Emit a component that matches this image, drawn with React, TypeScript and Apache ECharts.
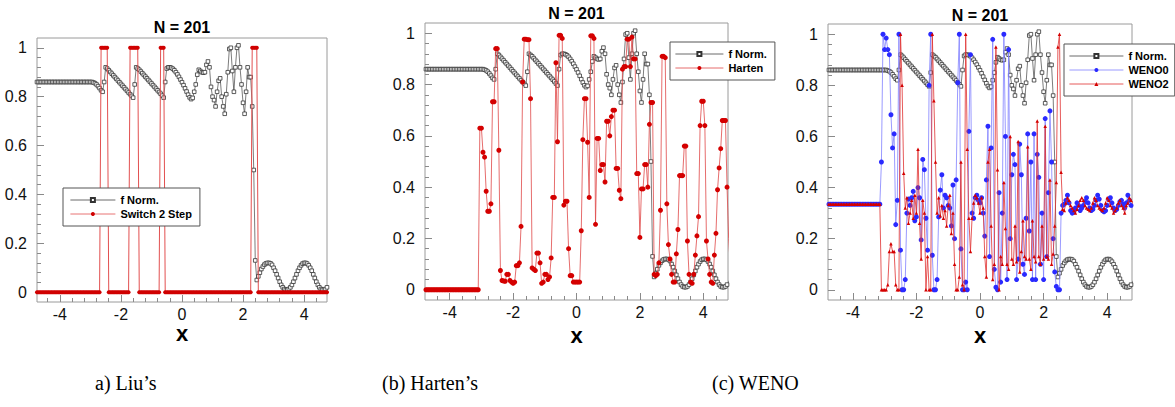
import React, { useEffect, useRef } from "react";
import * as echarts from "echarts";

// Sampling grid: N = 201 points on [-5, 5]
const N = 201;
const xs: number[] = Array.from({ length: N }, (_, i) => Math.round((-5 + i * 0.05) * 100) / 100);

// f Norm. (normalised solution)
const fNorm: number[] = [
  0.86, 0.86, 0.86, 0.86, 0.86, 0.86, 0.86, 0.86, 0.86, 0.86,
  0.86, 0.86, 0.86, 0.86, 0.86, 0.86, 0.86, 0.86, 0.86, 0.86,
  0.86, 0.86, 0.86, 0.86, 0.86, 0.86, 0.86, 0.86, 0.86, 0.86,
  0.86, 0.86, 0.86, 0.86, 0.86, 0.86, 0.86, 0.86, 0.86, 0.86,
  0.86, 0.86, 0.858, 0.855, 0.85, 0.843, 0.835, 0.826, 0.82, 0.86,
  0.92, 0.915, 0.908, 0.901, 0.894, 0.887, 0.88, 0.873, 0.866, 0.859,
  0.852, 0.845, 0.838, 0.831, 0.824, 0.817, 0.81, 0.803, 0.796, 0.85,
  0.92, 0.915, 0.91, 0.903, 0.896, 0.889, 0.882, 0.875, 0.868, 0.861,
  0.854, 0.847, 0.84, 0.833, 0.826, 0.819, 0.812, 0.804, 0.796, 0.86,
  0.915, 0.92, 0.92, 0.918, 0.914, 0.908, 0.9, 0.891, 0.881, 0.87,
  0.859, 0.847, 0.834, 0.821, 0.808, 0.797, 0.79, 0.795, 0.82, 0.85,
  0.89, 0.91, 0.905, 0.9, 0.898, 0.9, 0.93, 0.944, 0.92, 0.84,
  0.8, 0.786, 0.76, 0.82, 0.865, 0.875, 0.8, 0.76, 0.73, 0.81,
  0.9, 0.995, 1.0, 0.905, 0.82, 0.92, 1.0, 1.01, 0.92, 0.85,
  0.775, 0.73, 0.82, 0.92, 0.88, 0.88, 0.76, 0.5, 0.13, 0.05,
  0.065, 0.08, 0.095, 0.105, 0.113, 0.118, 0.12, 0.12, 0.118, 0.112,
  0.1, 0.088, 0.073, 0.058, 0.043, 0.03, 0.02, 0.013, 0.01, 0.01,
  0.013, 0.02, 0.03, 0.043, 0.058, 0.073, 0.088, 0.1, 0.11, 0.117,
  0.12, 0.12, 0.117, 0.11, 0.1, 0.088, 0.073, 0.058, 0.043, 0.03,
  0.02, 0.013, 0.01, 0.01, 0.013, 0.02, 0.03, 0.043, 0.058, 0.073,
  0.088,
];

// Liu's switch (0 / 1)
const switch2Step: number[] = [
  0, 0, 0, 0, 0, 0, 0, 0, 0, 0,
  0, 0, 0, 0, 0, 0, 0, 0, 0, 0,
  0, 0, 0, 0, 0, 0, 0, 0, 0, 0,
  0, 0, 0, 0, 0, 0, 0, 0, 0, 0,
  0, 0, 0, 0, 0, 0, 0, 1, 1, 1,
  1, 1, 0, 0, 0, 0, 0, 0, 0, 0,
  0, 0, 0, 0, 0, 0, 1, 1, 1, 1,
  1, 1, 0, 0, 0, 0, 0, 0, 0, 0,
  0, 0, 0, 0, 0, 0, 1, 1, 1, 0,
  0, 0, 0, 0, 0, 0, 0, 0, 0, 0,
  0, 0, 0, 0, 0, 0, 0, 0, 0, 0,
  0, 0, 0, 0, 0, 0, 0, 0, 0, 0,
  0, 0, 0, 0, 0, 0, 0, 0, 0, 0,
  0, 0, 0, 0, 0, 0, 0, 0, 0, 0,
  0, 0, 0, 0, 0, 0, 1, 1, 1, 1,
  0, 0, 0, 0, 0, 0, 0, 0, 0, 0,
  0, 0, 0, 0, 0, 0, 0, 0, 0, 0,
  0, 0, 0, 0, 0, 0, 0, 0, 0, 0,
  0, 0, 0, 0, 0, 0, 0, 0, 0, 0,
  0, 0, 0, 0, 0, 0, 0, 0, 0, 0,
  0,
];

// Harten's switch
const harten: number[] = [
  0, 0, 0, 0, 0, 0, 0, 0, 0, 0,
  0, 0, 0, 0, 0, 0, 0, 0, 0, 0,
  0, 0, 0, 0, 0, 0, 0, 0, 0, 0,
  0, 0, 0, 0, 0, 0, 0, 0, 0, 0.63,
  0.63, 0.536, 0.517, 0.384, 0.306, 0.306, 0.335, 0.733, 0.733, 0.94,
  0.94, 0.544, 0.075, 0.036, 0.034, 0.033, 0.06, 0.06, 0.036, 0.03,
  0.025, 0.03, 0.094, 0.094, 0.105, 0.247, 0.81, 0.977, 0.977, 0.975,
  0.975, 0.745, 0.085, 0.08, 0.075, 0.143, 0.143, 0.105, 0.025, 0.03,
  0.06, 0.06, 0.04, 0.05, 0.124, 0.36, 0.36, 0.885, 0.577, 0.992,
  0.992, 0.98, 0.33, 0.345, 0.345, 0.16, 0.055, 0.055, 0.03, 0.03,
  0.03, 0.03, 0.03, 0.23, 0.585, 0.745, 0.745, 0.575, 0.36, 0.99,
  0.99, 0.98, 0.255, 0.59, 0.59, 0.465, 0.488, 0.488, 0.42, 0.657,
  0.657, 0.6, 0.675, 0.7, 0.7, 0.473, 0.473, 0.388, 0.355, 0.86,
  0.87, 0.87, 0.977, 0.977, 0.87, 0.985, 0.9, 0.9, 0.453, 0.453,
  0.204, 0.393, 0.393, 0.488, 0.488, 0.4, 0.645, 0.73, 0.73, 0.06,
  0.055, 0.06, 0.105, 0.31, 0.91, 0.91, 0.905, 0.335, 0.176, 0.12,
  0.06, 0.03, 0.03, 0.14, 0.235, 0.445, 0.445, 0.445, 0.56, 0.56,
  0.19, 0.06, 0.03, 0.025, 0.06, 0.135, 0.21, 0.285, 0.64, 0.735,
  0.735, 0.64, 0.19, 0.12, 0.06, 0.03, 0.025, 0.135, 0.22, 0.39,
  0.475, 0.55, 0.66, 0.66, 0.66, 0.4, 0.2, 0.1, 0.05, 0.03,
  0.03,
];

// WENO0 smoothness switch
const weno0: number[] = [
  0.335, 0.335, 0.335, 0.335, 0.335, 0.335, 0.335, 0.335, 0.335, 0.335,
  0.335, 0.335, 0.335, 0.335, 0.335, 0.335, 0.335, 0.335, 0.335, 0.335,
  0.335, 0.335, 0.335, 0.335, 0.335, 0.335, 0.335, 0.335, 0.335, 0.335,
  0.335, 0.335, 0.335, 0.335, 0.335, 0.335, 0.335, 0.335, 0.5, 1.0,
  0.94, 0.985, 0.94, 0.92, 0.685, 0.555, 0.61, 0.255, 0.35, 1.0,
  0.155, 0.0, 0.0, 0.04, 0.3, 0.355, 0.33, 0.36, 0.385, 0.27,
  0.285, 0.4, 0.36, 0.195, 0.51, 0.47, 0.28, 0.155, 0.8, 1.0,
  0.135, 0.0, 0.0, 0.04, 0.285, 0.39, 0.45, 0.32, 0.37, 0.36,
  0.33, 0.32, 0.25, 0.41, 0.2, 0.43, 0.81, 1.0, 0.16, 0.0,
  0.0, 0.03, 0.0, 0.62, 0.92, 0.3, 0.28, 0.36, 0.37, 0.35,
  0.34, 0.36, 0.3, 0.21, 0.43, 0.64, 0.13, 0.555, 0.98, 0.08,
  0.01, 0.0, 0.38, 0.03, 0.3, 1.0, 0.6, 0.04, 0.94, 0.2,
  0.45, 0.53, 0.49, 0.04, 0.12, 0.57, 0.45, 0.1, 0.06, 0.28,
  0.61, 0.23, 0.5, 0.04, 0.61, 0.04, 0.53, 0.44, 0.1, 0.3,
  0.04, 0.67, 0.13, 0.38, 0.7, 0.5, 0.2, 0.07, 0.013, 0.0,
  0.0, 0.3, 0.33, 0.335, 0.35, 0.37, 0.34, 0.31, 0.3, 0.305,
  0.32, 0.34, 0.33, 0.31, 0.32, 0.33, 0.345, 0.36, 0.34, 0.32,
  0.31, 0.315, 0.33, 0.35, 0.37, 0.355, 0.33, 0.31, 0.305, 0.31,
  0.33, 0.355, 0.36, 0.34, 0.32, 0.31, 0.315, 0.33, 0.345, 0.35,
  0.335, 0.32, 0.34, 0.37, 0.35, 0.33, 0.32, 0.33, 0.34, 0.35,
  0.34,
];

// WENO2 smoothness switch
const weno2: number[] = [
  0.335, 0.335, 0.335, 0.335, 0.335, 0.335, 0.335, 0.335, 0.335, 0.335,
  0.335, 0.335, 0.335, 0.335, 0.335, 0.335, 0.335, 0.335, 0.335, 0.335,
  0.335, 0.335, 0.335, 0.335, 0.335, 0.335, 0.335, 0.335, 0.335, 0.335,
  0.335, 0.335, 0.335, 0.335, 0.335, 0.335, 0.335, 0.335, 0.0, 0.0,
  0.0, 0.0, 0.02, 0.15, 0.18, 0.15, 0.15, 0.02, 0.0, 0.0,
  1.0, 0.8, 0.456, 0.32, 0.36, 0.26, 0.3, 0.35, 0.28, 0.37,
  0.3, 0.55, 0.26, 0.12, 0.35, 0.3, 0.0, 0.13, 0.0, 0.0,
  1.0, 0.74, 0.5, 0.3, 0.36, 0.29, 0.33, 0.28, 0.31, 0.25,
  0.33, 0.37, 0.22, 0.3, 0.1, 0.0, 0.0, 0.05, 0.5, 0.02,
  0.0, 1.0, 0.55, 0.28, 0.15, 0.28, 0.34, 0.37, 0.36, 0.34,
  0.3, 0.36, 0.32, 0.13, 0.05, 0.5, 0.55, 0.25, 0.04, 0.1,
  0.95, 0.47, 0.0, 0.13, 0.1, 0.42, 0.24, 0.1, 0.08, 0.6,
  0.12, 0.1, 0.25, 0.11, 0.58, 0.07, 0.15, 0.27, 0.13, 0.12,
  0.56, 0.12, 0.08, 0.27, 0.13, 0.11, 0.66, 0.13, 0.1, 0.25,
  0.12, 0.64, 0.13, 0.12, 0.43, 0.1, 0.14, 0.25, 0.42, 0.95,
  1.0, 0.46, 0.315, 0.31, 0.34, 0.36, 0.35, 0.33, 0.32, 0.31,
  0.3, 0.315, 0.33, 0.35, 0.36, 0.35, 0.33, 0.32, 0.315, 0.31,
  0.32, 0.34, 0.36, 0.35, 0.33, 0.32, 0.315, 0.31, 0.32, 0.34,
  0.36, 0.35, 0.33, 0.32, 0.3, 0.31, 0.32, 0.34, 0.35, 0.33,
  0.32, 0.3, 0.33, 0.34, 0.36, 0.35, 0.34, 0.33, 0.32, 0.33,
  0.34,
];

const yMajor = [0, 0.2, 0.4, 0.6, 0.8, 1];
const yMinor = [0.04, 0.08, 0.12, 0.16, 0.24, 0.28, 0.32, 0.36, 0.44, 0.48, 0.52, 0.56, 0.64, 0.68, 0.72, 0.76, 0.84, 0.88, 0.92, 0.96];
const xMajor = [-4, -2, 0, 2, 4];
const xMinor = [-4.4, -3.6, -3.2, -2.8, -2.4, -1.6, -1.2, -0.8, -0.4, 0.4, 0.8, 1.2, 1.6, 2.4, 2.8, 3.2, 3.6, 4.4];

const titleText = "N = 201";
const captions = ["a) Liu\u2019s", "(b) Harten\u2019s", "(c) WENO"];

const FONT = "'Liberation Sans', Arial, Helvetica, sans-serif";
const SERIF = "'Liberation Serif', 'Times New Roman', serif";

const pts = (ys: number[]) => xs.map((x, i) => [x, ys[i]]);

const fNormStyle = (xi: number, yi: number) => ({
  name: "f Norm.",
  type: "line",
  xAxisIndex: xi,
  yAxisIndex: yi,
  data: pts(fNorm),
  symbol: "rect",
  symbolSize: 3.6,
  showSymbol: true,
  showAllSymbol: true,
  itemStyle: { color: "#ffffff", borderColor: "#333333", borderWidth: 0.8 },
  lineStyle: { color: "#444444", width: 0.7 },
  silent: true,
  z: 2,
});

export default function App() {
  const ref = useRef<HTMLDivElement>(null);

  useEffect(() => {
    if (!ref.current) return;
    const chart = echarts.init(ref.current, undefined, { renderer: "svg" });

    const panels = [
      { grid: { left: 37, top: 38, width: 290, height: 264 }, xMin: -4.75, xMax: 4.75, cx: 182, titleY: 27, xLabY: 333 },
      { grid: { left: 425, top: 23, width: 303, height: 277 }, xMin: -4.78, xMax: 4.78, cx: 576.5, titleY: 13, xLabY: 335 },
      { grid: { left: 828, top: 24, width: 304, height: 276 }, xMin: -4.78, xMax: 4.78, cx: 980, titleY: 15, xLabY: 335 },
    ];

    const grids: any[] = [];
    const xAxes: any[] = [];
    const yAxes: any[] = [];
    panels.forEach((p, gi) => {
      grids.push({ ...p.grid, show: true, borderColor: "#9a9a9a", borderWidth: 1, backgroundColor: "transparent" });
      const tickStyle = { color: "#8a8a8a", width: 1 };
      const noLine = { show: false, onZero: false };
      xAxes.push({
        gridIndex: gi, type: "value", min: p.xMin, max: p.xMax, position: "bottom",
        axisLine: noLine, splitLine: { show: false },
        axisTick: { show: true, inside: true, length: 7, customValues: xMajor, lineStyle: tickStyle },
        axisLabel: { show: true, customValues: xMajor, margin: 4, fontSize: 16, color: "#111", fontFamily: FONT },
      });
      xAxes.push({
        gridIndex: gi, type: "value", min: p.xMin, max: p.xMax, position: "bottom",
        axisLine: noLine, splitLine: { show: false },
        axisTick: { show: true, inside: true, length: 4, customValues: xMinor, lineStyle: tickStyle },
        axisLabel: { show: false },
      });
      yAxes.push({
        gridIndex: gi, type: "value", min: -0.04, max: 1.04, position: "left",
        axisLine: noLine, splitLine: { show: false },
        axisTick: { show: true, inside: true, length: 7, customValues: yMajor, lineStyle: tickStyle },
        axisLabel: { show: true, customValues: yMajor, margin: 10, fontSize: 16, color: "#111", fontFamily: FONT },
      });
      yAxes.push({
        gridIndex: gi, type: "value", min: -0.04, max: 1.04, position: "left",
        axisLine: noLine, splitLine: { show: false },
        axisTick: { show: true, inside: true, length: 4, customValues: yMinor, lineStyle: tickStyle },
        axisLabel: { show: false },
      });
    });

    const series: any[] = [
      fNormStyle(0, 0),
      {
        name: "Switch 2 Step", type: "line", xAxisIndex: 0, yAxisIndex: 0, data: pts(switch2Step),
        symbol: "circle", symbolSize: 4, showSymbol: true, showAllSymbol: true,
        itemStyle: { color: "#d00000" }, lineStyle: { color: "#e25050", width: 1 }, silent: true, z: 3,
      },
      fNormStyle(2, 2),
      {
        name: "Harten", type: "line", xAxisIndex: 2, yAxisIndex: 2, data: pts(harten),
        symbol: "circle", symbolSize: 5, showSymbol: true, showAllSymbol: true,
        itemStyle: { color: "#d40000" }, lineStyle: { color: "#e04848", width: 0.8 }, silent: true, z: 3,
      },
      fNormStyle(4, 4),
      {
        name: "WENO0", type: "line", xAxisIndex: 4, yAxisIndex: 4, data: pts(weno0),
        symbol: "circle", symbolSize: 5, showSymbol: true, showAllSymbol: true,
        itemStyle: { color: "#2a2aff" }, lineStyle: { color: "#8080ff", width: 0.8 }, silent: true, z: 3,
      },
      {
        name: "WENO2", type: "line", xAxisIndex: 4, yAxisIndex: 4, data: pts(weno2),
        symbol: "triangle", symbolSize: 3.5, showSymbol: true, showAllSymbol: true,
        itemStyle: { color: "#d40000" }, lineStyle: { color: "#e03030", width: 0.8 }, silent: true, z: 4,
      },
    ];

    const legendBase = {
      orient: "vertical", backgroundColor: "#ffffff", borderColor: "#555", borderWidth: 1,
      itemGap: 2, itemHeight: 5, selectedMode: false,
      lineStyle: { width: 0.8 },
      textStyle: { fontSize: 11, color: "#000", fontFamily: FONT, fontWeight: "bold", lineHeight: 12 },
    };
    const legends = [
      { ...legendBase, left: 63, top: 188, itemWidth: 45, padding: [6, 8, 6, 7], data: ["f Norm.", "Switch 2 Step"] },
      { ...legendBase, left: 670, top: 42, itemWidth: 48, padding: [6, 8, 6, 5], data: ["f Norm.", "Harten"] },
      { ...legendBase, left: 1064, top: 44, itemWidth: 54, padding: [6, 6, 6, 5], data: ["f Norm.", "WENO0", "WENO2"] },
    ];

    const graphics: any[] = [];
    panels.forEach((p) => {
      graphics.push({
        type: "text", x: p.cx, y: p.titleY,
        style: { text: titleText, fontSize: 16, fontWeight: "bold", fontFamily: FONT, fill: "#000", textAlign: "center", textVerticalAlign: "middle" },
      });
      graphics.push({
        type: "text", x: p.cx, y: p.xLabY,
        style: { text: "x", fontSize: 22, fontWeight: "bold", fontFamily: FONT, fill: "#000", textAlign: "center", textVerticalAlign: "middle" },
      });
    });
    const capX = [95, 382, 712];
    captions.forEach((c, i) => {
      graphics.push({
        type: "text", x: capX[i], y: 383,
        style: { text: c, fontSize: 20, fontFamily: SERIF, fill: "#000", textAlign: "left", textVerticalAlign: "middle" },
      });
    });

    chart.setOption({
      animation: false,
      backgroundColor: "#ffffff",
      grid: grids,
      xAxis: xAxes,
      yAxis: yAxes,
      legend: legends,
      series,
      graphic: graphics,
    });

    return () => chart.dispose();
  }, []);

  return <div ref={ref} style={{ position: "fixed", left: 0, top: 0, width: 1175, height: 407 }} />;
}
